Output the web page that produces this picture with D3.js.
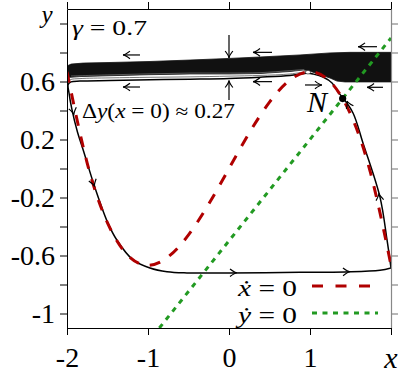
<!DOCTYPE html>
<html><head><meta charset="utf-8">
<script src="https://cdn.jsdelivr.net/npm/d3@7"></script>
<style>body{margin:0;background:#fff} svg{display:block}</style>
</head><body><svg id="c" width="411" height="377"></svg>
<script>
// ---------- data ----------
const xTickVals = [-2, -1, 0, 1, 2];
const xTickText = ["-2", "-1", "0", "1", ""];
const yTickVals = [-1, -0.8, -0.6, -0.4, -0.2, 0, 0.2, 0.4, 0.6, 0.8, 1];
const yTickText = ["-1", "", "-0.6", "", "-0.2", "", "0.2", "", "0.6", "", ""];

// x-nullcline (red dashed)
const xNullX = [-2, -1.75, -1.5, -1.25, -1, -0.75, -0.5, -0.25, 0, 0.25, 0.5, 0.75, 1, 1.25, 1.5, 1.75, 2];
const xNullY = [0.667, 0.036, -0.375, -0.599, -0.667, -0.609, -0.458, -0.245, 0, 0.245, 0.458, 0.609, 0.667, 0.599, 0.375, -0.036, -0.667];
// y-nullcline (green dotted)
const yNullX = [-0.86, 2.0];
const yNullY = [-1.1, 0.9];

// dense band of trajectories
const bandTopX = [-2, -1.95, -1.8, -1.469, -0.975, -0.481, 0, 0.383, 0.877, 1.247, 1.494, 2.0];
const bandTopY = [0.707, 0.72, 0.727, 0.731, 0.738, 0.748, 0.759, 0.769, 0.783, 0.797, 0.801, 0.801];
const bandBotX = [-2, -1.84, -1.469, -0.975, -0.481, 0, 0.383, 0.753, 0.914, 0.975, 1.111, 1.247, 1.333, 1.432, 2.0];
const bandBotY = [0.627, 0.634, 0.640, 0.647, 0.652, 0.652, 0.655, 0.669, 0.679, 0.676, 0.650, 0.624, 0.603, 0.597, 0.597];

// lower streak below band
const streakX = [0.95, 0.753, 0.383, 0, -0.481, -0.975, -1.469, -1.84, -1.96, -1.99];
const streakY = [0.668, 0.652, 0.642, 0.637, 0.632, 0.629, 0.625, 0.62, 0.612, 0.592];
// white gap inside band
const gapX = [-1.95, -1.469, -0.975, -0.481, 0, 0.383, 0.753, 0.93];
const gapY = [0.638, 0.646, 0.653, 0.658, 0.658, 0.661, 0.675, 0.683];

// main trajectory: from canard point, left, down left branch, right along bottom
const trajX = [0.975, 0.753, 0.383, 0, -0.481, -0.975, -1.469, -1.84, -1.95, -1.985, -1.975, -1.94, -1.87, -1.80, -1.654, -1.5, -1.383, -1.185, -0.975, -0.765, -0.519, 0, 0.877, 1.432, 1.864, 2.0];
const trajY = [0.659, 0.642, 0.630, 0.621, 0.616, 0.612, 0.607, 0.603, 0.597, 0.58, 0.52, 0.41, 0.25, 0.128, -0.134, -0.37, -0.495, -0.630, -0.686, -0.712, -0.72, -0.72, -0.716, -0.713, -0.702, -0.686];
// right branch rising to N
const riseX = [2.0, 1.951, 1.864, 1.654, 1.531, 1.407];
const riseY = [-0.686, -0.493, -0.197, 0.176, 0.383, 0.486];
// from canard to N
const canX = [0.963, 1.037, 1.16, 1.272, 1.346, 1.407];
const canY = [0.659, 0.652, 0.631, 0.59, 0.528, 0.486];

const fixedX = [1.403];
const fixedY = [0.482];

// arrows with shafts (tail -> tip)
const sx1 = [-1.099, -1.099, 0, 0, 0.531, 0.531, 1.827, 1.901, 0.938];
const sy1 = [0.783, 0.562, 0.921, 0.472, 0.801, 0.599, 0.84, 0.56, 0.576];
const sx2 = [-1.309, -1.309, 0, 0, 0.296, 0.296, 1.593, 1.704, 1.148];
const sy2 = [0.783, 0.562, 0.762, 0.607, 0.801, 0.599, 0.84, 0.56, 0.576];
// arrow heads on curves (direction point -> tip)
const hx1 = [-1.94, -1.74, 0.0, 1.39, 1.875, 1.51];
const hy1 = [0.44, 0.02, -0.719, -0.713, -0.27, 0.40];
const hx2 = [-1.914, -1.66, 0.099, 1.494, 1.85, 1.457];
const hy2 = [0.369, -0.125, -0.719, -0.712, -0.17, 0.466];

// ---------- drawing ----------
const svg = d3.select("#c");
const L = 67, R = 391, T = 9, B = 328;
const x = d3.scaleLinear().domain([-2, 2]).range([L, R]);
const y = d3.scaleLinear().domain([-1.1, 1.1]).range([B, T]);
const serif = "'Liberation Serif', 'DejaVu Serif', serif";
const RED = "#b00000", GREEN = "#229a22";

svg.append("defs").append("clipPath").attr("id", "clip")
  .append("rect").attr("x", L).attr("y", T).attr("width", R - L).attr("height", B - T);
const plot = svg.append("g").attr("clip-path", "url(#clip)");

const zip = (xs, ys) => xs.map((v, i) => [v, ys[i]]);
const line = d3.line().x(d => x(d[0])).y(d => y(d[1]));
const smooth = d3.line().x(d => x(d[0])).y(d => y(d[1])).curve(d3.curveCatmullRom.alpha(0.5));

// band
const bandPts = zip(bandTopX, bandTopY).concat(zip(bandBotX, bandBotY).reverse());
plot.append("path").attr("d", d3.line().x(d => x(d[0])).y(d => y(d[1])).curve(d3.curveLinearClosed)(bandPts))
  .attr("fill", "#111").attr("stroke", "#111").attr("stroke-width", 0.8).attr("stroke-linejoin", "round");
plot.append("path").attr("d", smooth(zip(gapX, gapY))).attr("fill", "none")
  .attr("stroke", "#fff").attr("stroke-width", 0.5).attr("opacity", 0.6);
plot.append("path").attr("d", smooth(zip(streakX, streakY))).attr("fill", "none")
  .attr("stroke", "#555").attr("stroke-width", 0.8);

// trajectories
plot.append("path").attr("d", smooth(zip(trajX, trajY))).attr("fill", "none")
  .attr("stroke", "#000").attr("stroke-width", 1.5);
plot.append("path").attr("d", smooth(zip(riseX, riseY))).attr("fill", "none")
  .attr("stroke", "#000").attr("stroke-width", 1.5);
plot.append("path").attr("d", smooth(zip(canX, canY))).attr("fill", "none")
  .attr("stroke", "#000").attr("stroke-width", 1.4);
// small loop at canard point
plot.append("ellipse").attr("cx", x(0.975)).attr("cy", y(0.664)).attr("rx", 2.6).attr("ry", 1.8)
  .attr("fill", "#fff").attr("stroke", "#333").attr("stroke-width", 0.7);

// nullclines
plot.append("path").attr("d", d3.line().x(d => x(d[0])).y(d => y(d[1])).curve(d3.curveNatural)(zip(xNullX, xNullY)))
  .attr("fill", "none").attr("stroke", RED).attr("stroke-width", 3).attr("stroke-dasharray", "11,11");
plot.append("path").attr("d", line(zip(yNullX, yNullY)))
  .attr("fill", "none").attr("stroke", GREEN).attr("stroke-width", 3).attr("stroke-dasharray", "5,5.5");

// fixed point
plot.selectAll("circle.fp").data(zip(fixedX, fixedY)).join("circle").attr("class", "fp")
  .attr("cx", d => x(d[0])).attr("cy", d => y(d[1])).attr("r", 3.6).attr("fill", "#000");

// arrows
function head(g, x1, y1, x2, y2) {
  const px1 = x(x1), py1 = y(y1), px2 = x(x2), py2 = y(y2);
  const th = Math.atan2(py2 - py1, px2 - px1);
  const a = 0.5, len = 8;
  const p1 = [px2 + len * Math.cos(th + Math.PI - a), py2 + len * Math.sin(th + Math.PI - a)];
  const p2 = [px2 + len * Math.cos(th + Math.PI + a), py2 + len * Math.sin(th + Math.PI + a)];
  g.append("path").attr("d", `M${p1[0]},${p1[1]} Q${px2 - 2*Math.cos(th)},${py2 - 2*Math.sin(th)} ${px2},${py2} Q${px2 - 2*Math.cos(th)},${py2 - 2*Math.sin(th)} ${p2[0]},${p2[1]}`)
    .attr("fill", "none").attr("stroke", "#000").attr("stroke-width", 1.2);
}
const arr = svg.append("g");
sx1.forEach((v, i) => {
  arr.append("line").attr("x1", x(sx1[i])).attr("y1", y(sy1[i])).attr("x2", x(sx2[i])).attr("y2", y(sy2[i]))
    .attr("stroke", "#000").attr("stroke-width", 1.2);
  head(arr, sx1[i], sy1[i], sx2[i], sy2[i]);
});
hx1.forEach((v, i) => head(arr, hx1[i], hy1[i], hx2[i], hy2[i]));

// axes
const gL = svg.append("g").attr("transform", `translate(${L},0)`)
  .call(d3.axisLeft(y).tickValues(yTickVals).tickSize(7).tickSizeOuter(0).tickPadding(5).tickFormat((d, i) => yTickText[i]));
const gR = svg.append("g").attr("transform", `translate(${R},0)`)
  .call(d3.axisRight(y).tickValues(yTickVals).tickSize(7).tickSizeOuter(0).tickFormat(""));
const gB = svg.append("g").attr("transform", `translate(0,${B})`)
  .call(d3.axisBottom(x).tickValues(xTickVals).tickSize(7).tickSizeOuter(0).tickPadding(12).tickFormat((d, i) => xTickText[i]));
const gT = svg.append("g").attr("transform", `translate(0,${T})`)
  .call(d3.axisTop(x).tickValues(xTickVals).tickSize(7).tickSizeOuter(0).tickFormat(""));
[gL, gB, gT].forEach(g => { g.selectAll("path,line").attr("stroke", "#000").attr("stroke-width", 1); });
gR.selectAll("path,line").attr("stroke", "#888").attr("stroke-width", 1.2);
[gL, gB].forEach(g => g.attr("font-family", serif).selectAll("text").attr("font-family", serif).attr("font-size", 28).attr("fill", "#000"));

// axis titles
svg.append("text").attr("x", 391).attr("y", 368).attr("text-anchor", "middle")
  .attr("font-family", serif).attr("font-style", "italic").attr("font-size", 30).text("x");
svg.append("text").attr("x", 47).attr("y", 22.5).attr("text-anchor", "middle")
  .attr("font-family", serif).attr("font-style", "italic").attr("font-size", 25).text("y");

// annotations
const t1 = svg.append("text").attr("x", 72).attr("y", 35).attr("font-family", serif).attr("font-size", 21)
  .attr("textLength", 75).attr("lengthAdjust", "spacingAndGlyphs");
t1.append("tspan").attr("font-style", "italic").text("γ");
t1.append("tspan").text(" = 0.7");
const t2 = svg.append("text").attr("x", 82).attr("y", 118).attr("font-family", serif).attr("font-size", 20)
  .attr("textLength", 153).attr("lengthAdjust", "spacingAndGlyphs");
t2.append("tspan").text("Δ");
t2.append("tspan").attr("font-style", "italic").text("y");
t2.append("tspan").text("(");
t2.append("tspan").attr("font-style", "italic").text("x");
t2.append("tspan").text(" = 0) ≈ 0.27");
svg.append("text").attr("x", 307).attr("y", 112).attr("font-family", serif).attr("font-style", "italic")
  .attr("font-size", 30).text("N");

// legend
const legNames = ["x\u0307", "y\u0307"];
const legY = [286, 313];
legNames.forEach((nm, i) => {
  const t = svg.append("text").attr("x", 238).attr("y", legY[i] + 10).attr("font-family", serif).attr("font-size", 23)
    .attr("textLength", 59).attr("lengthAdjust", "spacingAndGlyphs");
  t.append("tspan").attr("font-style", "italic").text(nm);
  t.append("tspan").text(" = 0");
});
svg.append("line").attr("x1", 312).attr("x2", 372).attr("y1", legY[0]).attr("y2", legY[0])
  .attr("stroke", RED).attr("stroke-width", 3).attr("stroke-dasharray", "11,12.5");
svg.append("line").attr("x1", 312).attr("x2", 378).attr("y1", legY[1]).attr("y2", legY[1])
  .attr("stroke", GREEN).attr("stroke-width", 3).attr("stroke-dasharray", "5,5.5");
</script></body></html>
